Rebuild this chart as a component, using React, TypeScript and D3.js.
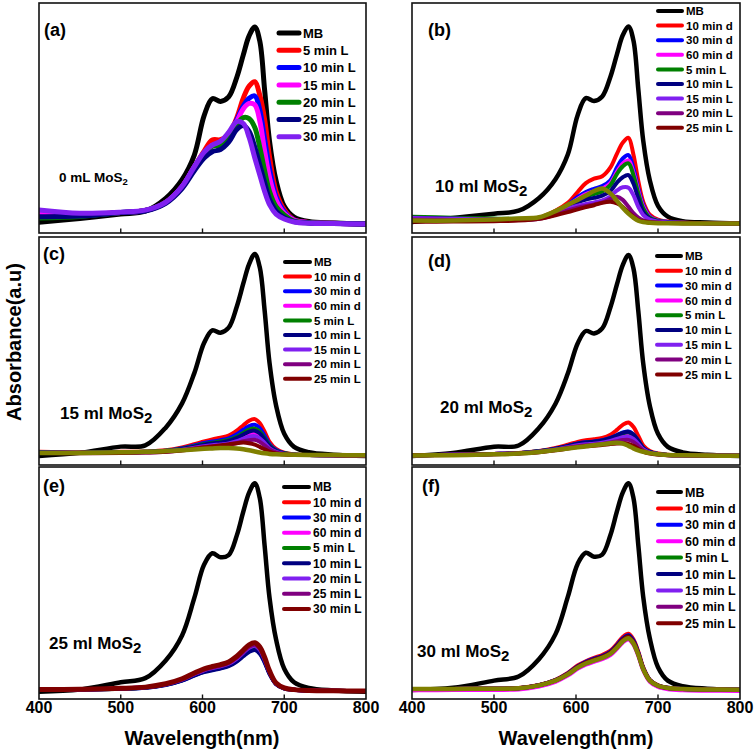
import React from 'react';
import * as d3 from 'd3';

// ---------------- DATA ----------------
const wavelengths = [400, 450, 500, 530, 555, 575, 590, 602, 612, 622, 632, 642, 650, 657, 664, 670, 676, 682, 690, 700, 712, 730, 760, 800];
const xTicks = [400, 500, 600, 700, 800];

// MB reference spectra (relative absorbance, peak = 1)
const mbTopRow = [0.008, 0.028, 0.05, 0.065, 0.13, 0.225, 0.35, 0.55, 0.636, 0.622, 0.645, 0.745, 0.86, 0.955, 1.0, 0.93, 0.68, 0.42, 0.22, 0.09, 0.035, 0.012, 0.005, 0.0];
const mbMidRow = [0.0, 0.015, 0.046, 0.052, 0.14, 0.26, 0.41, 0.56, 0.622, 0.61, 0.635, 0.74, 0.855, 0.95, 1.0, 0.935, 0.72, 0.46, 0.25, 0.11, 0.045, 0.018, 0.006, 0.0];
const mbLowRow = [0.0, 0.01, 0.045, 0.065, 0.15, 0.27, 0.45, 0.61, 0.664, 0.645, 0.655, 0.75, 0.865, 0.955, 1.0, 0.93, 0.70, 0.45, 0.25, 0.11, 0.045, 0.018, 0.006, 0.0];

// (a) 0 mL MoS2
const aLabels = ['MB', '5 min L', '10 min L', '15 min L', '20 min L', '25 min L', '30 min L'];
const a5L = [0.045, 0.045, 0.058, 0.068, 0.11, 0.19, 0.29, 0.37, 0.426, 0.428, 0.455, 0.54, 0.64, 0.70, 0.722, 0.655, 0.53, 0.34, 0.165, 0.072, 0.022, 0.008, 0.003, 0.0];
const a10L = [0.037, 0.04, 0.058, 0.068, 0.11, 0.19, 0.29, 0.36, 0.40, 0.405, 0.44, 0.53, 0.60, 0.638, 0.65, 0.58, 0.43, 0.28, 0.14, 0.063, 0.02, 0.007, 0.003, 0.0];
const a15L = [0.054, 0.048, 0.058, 0.068, 0.11, 0.19, 0.29, 0.36, 0.40, 0.405, 0.44, 0.52, 0.585, 0.612, 0.605, 0.525, 0.37, 0.235, 0.122, 0.054, 0.018, 0.007, 0.003, 0.0];
const a20L = [0.03, 0.038, 0.058, 0.068, 0.108, 0.185, 0.285, 0.355, 0.395, 0.40, 0.435, 0.505, 0.54, 0.535, 0.49, 0.39, 0.27, 0.165, 0.088, 0.046, 0.015, 0.006, 0.003, 0.0];
const a25L = [0.037, 0.04, 0.058, 0.066, 0.105, 0.18, 0.27, 0.335, 0.367, 0.378, 0.415, 0.48, 0.50, 0.47, 0.39, 0.30, 0.21, 0.125, 0.065, 0.032, 0.012, 0.005, 0.002, 0.0];
const a30L = [0.071, 0.054, 0.06, 0.07, 0.11, 0.19, 0.29, 0.365, 0.40, 0.42, 0.465, 0.52, 0.51, 0.44, 0.335, 0.25, 0.165, 0.098, 0.05, 0.025, 0.01, 0.004, 0.002, 0.0];

// shared legend for (b), (c), (d), (f)
const bcdfLabels = ['MB', '10 min d', '30 min d', '60 min d', '5 min L', '10 min L', '15 min L', '20 min L', '25 min L'];
const eLabels = ['MB', '10 min d', '30 min d', '60 min d', '5 min L', '10 min L', '20 min L', '25 min L', '30 min L'];

// (b) 10 ml MoS2
const bRed = [0.03, 0.025, 0.022, 0.022, 0.03, 0.065, 0.105, 0.16, 0.205, 0.228, 0.24, 0.285, 0.355, 0.41, 0.435, 0.35, 0.215, 0.11, 0.045, 0.02, 0.01, 0.005, 0.002, 0.0];
const bBlue = [0.03, 0.025, 0.022, 0.022, 0.029, 0.06, 0.095, 0.135, 0.16, 0.176, 0.19, 0.22, 0.285, 0.33, 0.347, 0.28, 0.178, 0.094, 0.036, 0.016, 0.008, 0.004, 0.002, 0.0];
const bPink = [0.028, 0.024, 0.021, 0.021, 0.028, 0.058, 0.09, 0.125, 0.15, 0.163, 0.176, 0.205, 0.262, 0.305, 0.32, 0.26, 0.165, 0.086, 0.033, 0.015, 0.008, 0.004, 0.002, 0.0];
const bGreen = [0.035, 0.03, 0.025, 0.024, 0.028, 0.056, 0.087, 0.118, 0.138, 0.15, 0.163, 0.195, 0.252, 0.29, 0.305, 0.246, 0.153, 0.077, 0.03, 0.014, 0.007, 0.004, 0.002, 0.0];
const bNavy = [0.03, 0.025, 0.022, 0.022, 0.027, 0.054, 0.082, 0.108, 0.122, 0.13, 0.142, 0.165, 0.208, 0.235, 0.246, 0.203, 0.127, 0.06, 0.025, 0.012, 0.006, 0.003, 0.002, 0.0];
const bViolet = [0.028, 0.024, 0.021, 0.021, 0.026, 0.05, 0.074, 0.09, 0.099, 0.107, 0.117, 0.138, 0.168, 0.184, 0.182, 0.144, 0.085, 0.043, 0.02, 0.01, 0.005, 0.003, 0.002, 0.0];
const bPurple = [0.02, 0.018, 0.017, 0.018, 0.024, 0.046, 0.066, 0.08, 0.089, 0.097, 0.107, 0.125, 0.136, 0.12, 0.085, 0.053, 0.03, 0.016, 0.008, 0.005, 0.003, 0.002, 0.001, 0.0];
const bMaroon = [0.009, 0.01, 0.012, 0.015, 0.024, 0.042, 0.058, 0.072, 0.083, 0.093, 0.105, 0.11, 0.102, 0.085, 0.056, 0.035, 0.018, 0.01, 0.006, 0.004, 0.003, 0.002, 0.001, 0.0];
const bOlive = [0.015, 0.015, 0.02, 0.026, 0.032, 0.063, 0.095, 0.12, 0.142, 0.165, 0.178, 0.153, 0.115, 0.08, 0.05, 0.03, 0.014, 0.007, 0.004, 0.002, 0.001, 0.0, 0.0, 0.0];

// (c) 15 ml MoS2
const cRed = [0.02, 0.018, 0.02, 0.022, 0.028, 0.042, 0.058, 0.072, 0.082, 0.09, 0.1, 0.125, 0.152, 0.174, 0.182, 0.163, 0.12, 0.07, 0.035, 0.016, 0.008, 0.004, 0.003, 0.002];
const cBlue = [0.018, 0.016, 0.018, 0.02, 0.026, 0.038, 0.052, 0.064, 0.071, 0.078, 0.087, 0.107, 0.13, 0.148, 0.154, 0.138, 0.1, 0.058, 0.029, 0.014, 0.007, 0.004, 0.003, 0.002];
const cPink = [0.016, 0.015, 0.017, 0.019, 0.024, 0.034, 0.045, 0.054, 0.059, 0.064, 0.07, 0.083, 0.098, 0.11, 0.115, 0.103, 0.075, 0.045, 0.023, 0.012, 0.006, 0.004, 0.003, 0.002];
const cGreen = [0.017, 0.016, 0.018, 0.02, 0.025, 0.036, 0.048, 0.059, 0.065, 0.071, 0.079, 0.095, 0.114, 0.13, 0.135, 0.121, 0.088, 0.052, 0.026, 0.013, 0.007, 0.004, 0.003, 0.002];
const cNavy = [0.016, 0.015, 0.017, 0.019, 0.024, 0.035, 0.046, 0.056, 0.062, 0.067, 0.074, 0.089, 0.106, 0.12, 0.125, 0.112, 0.082, 0.048, 0.024, 0.012, 0.006, 0.004, 0.003, 0.002];
const cViolet = [0.015, 0.014, 0.016, 0.018, 0.022, 0.031, 0.04, 0.048, 0.053, 0.057, 0.062, 0.073, 0.085, 0.095, 0.098, 0.087, 0.064, 0.038, 0.02, 0.01, 0.006, 0.004, 0.003, 0.002];
const cPurple = [0.015, 0.014, 0.016, 0.018, 0.021, 0.029, 0.037, 0.044, 0.048, 0.052, 0.056, 0.064, 0.073, 0.078, 0.08, 0.07, 0.052, 0.032, 0.017, 0.009, 0.005, 0.004, 0.003, 0.002];
const cMaroon = [0.014, 0.013, 0.015, 0.017, 0.02, 0.027, 0.035, 0.042, 0.047, 0.052, 0.057, 0.063, 0.066, 0.063, 0.056, 0.045, 0.033, 0.021, 0.012, 0.007, 0.005, 0.004, 0.003, 0.002];
const cOlive = [0.014, 0.015, 0.018, 0.02, 0.024, 0.028, 0.032, 0.035, 0.037, 0.039, 0.039, 0.037, 0.033, 0.028, 0.022, 0.017, 0.013, 0.01, 0.008, 0.007, 0.006, 0.005, 0.004, 0.003];

// (d) 20 ml MoS2
const dRed = [0.004, 0.006, 0.01, 0.015, 0.025, 0.04, 0.056, 0.07, 0.078, 0.083, 0.09, 0.106, 0.13, 0.155, 0.167, 0.145, 0.1, 0.052, 0.025, 0.012, 0.006, 0.003, 0.002, 0.001];
const dBlue = [0.004, 0.006, 0.01, 0.014, 0.023, 0.036, 0.05, 0.062, 0.068, 0.072, 0.078, 0.09, 0.104, 0.117, 0.122, 0.108, 0.076, 0.04, 0.02, 0.01, 0.005, 0.003, 0.002, 0.001];
const dPink = [0.004, 0.006, 0.01, 0.014, 0.022, 0.034, 0.047, 0.058, 0.063, 0.067, 0.072, 0.083, 0.095, 0.106, 0.11, 0.098, 0.069, 0.037, 0.018, 0.009, 0.005, 0.003, 0.002, 0.001];
const dGreen = [0.004, 0.006, 0.01, 0.014, 0.023, 0.035, 0.049, 0.06, 0.066, 0.07, 0.076, 0.088, 0.101, 0.113, 0.118, 0.105, 0.074, 0.039, 0.019, 0.01, 0.005, 0.003, 0.002, 0.001];
const dNavy = [0.004, 0.006, 0.01, 0.014, 0.023, 0.036, 0.05, 0.061, 0.067, 0.071, 0.077, 0.089, 0.103, 0.115, 0.12, 0.106, 0.075, 0.04, 0.02, 0.01, 0.005, 0.003, 0.002, 0.001];
const dViolet = [0.004, 0.006, 0.01, 0.013, 0.021, 0.032, 0.044, 0.053, 0.058, 0.061, 0.066, 0.075, 0.085, 0.093, 0.096, 0.085, 0.06, 0.033, 0.017, 0.009, 0.005, 0.003, 0.002, 0.001];
const dPurple = [0.004, 0.006, 0.009, 0.013, 0.02, 0.03, 0.041, 0.049, 0.053, 0.056, 0.06, 0.067, 0.074, 0.079, 0.08, 0.07, 0.05, 0.028, 0.015, 0.008, 0.004, 0.003, 0.002, 0.001];
const dMaroon = [0.003, 0.005, 0.009, 0.012, 0.019, 0.028, 0.037, 0.044, 0.048, 0.051, 0.054, 0.059, 0.062, 0.063, 0.06, 0.05, 0.036, 0.022, 0.012, 0.007, 0.004, 0.003, 0.002, 0.001];
const dOlive = [0.002, 0.004, 0.008, 0.012, 0.02, 0.03, 0.037, 0.043, 0.048, 0.053, 0.058, 0.063, 0.066, 0.062, 0.05, 0.038, 0.028, 0.021, 0.014, 0.009, 0.005, 0.003, 0.002, 0.001];

// (e) 25 ml MoS2
const eRed = [0.009, 0.011, 0.015, 0.02, 0.035, 0.057, 0.082, 0.1, 0.111, 0.119, 0.131, 0.155, 0.183, 0.206, 0.215, 0.197, 0.151, 0.092, 0.038, 0.017, 0.009, 0.006, 0.004, 0.003];
const eBlue = [0.009, 0.01, 0.014, 0.019, 0.033, 0.054, 0.079, 0.096, 0.106, 0.113, 0.125, 0.148, 0.174, 0.196, 0.205, 0.188, 0.144, 0.087, 0.037, 0.016, 0.009, 0.005, 0.003, 0.003];
const ePink = [0.009, 0.011, 0.015, 0.021, 0.035, 0.057, 0.083, 0.101, 0.111, 0.12, 0.132, 0.156, 0.183, 0.206, 0.214, 0.196, 0.15, 0.091, 0.038, 0.017, 0.009, 0.006, 0.004, 0.003];
const eGreen = [0.009, 0.011, 0.014, 0.02, 0.034, 0.055, 0.08, 0.098, 0.108, 0.116, 0.128, 0.152, 0.179, 0.201, 0.21, 0.192, 0.147, 0.089, 0.038, 0.016, 0.009, 0.005, 0.004, 0.003];
const eNavy = [0.009, 0.01, 0.014, 0.019, 0.032, 0.053, 0.077, 0.094, 0.103, 0.111, 0.122, 0.145, 0.17, 0.191, 0.2, 0.183, 0.14, 0.085, 0.036, 0.015, 0.009, 0.005, 0.003, 0.003];
const eViolet = [0.009, 0.011, 0.015, 0.021, 0.036, 0.058, 0.084, 0.103, 0.113, 0.122, 0.134, 0.159, 0.187, 0.211, 0.22, 0.201, 0.154, 0.094, 0.039, 0.017, 0.009, 0.006, 0.004, 0.003];
const ePurple = [0.01, 0.011, 0.015, 0.021, 0.036, 0.059, 0.086, 0.105, 0.116, 0.124, 0.137, 0.163, 0.191, 0.215, 0.225, 0.206, 0.158, 0.096, 0.04, 0.017, 0.01, 0.006, 0.004, 0.003];
const eMaroon = [0.01, 0.012, 0.016, 0.022, 0.038, 0.062, 0.09, 0.11, 0.121, 0.13, 0.143, 0.17, 0.2, 0.225, 0.235, 0.215, 0.165, 0.1, 0.042, 0.018, 0.01, 0.006, 0.004, 0.003];

// (f) 30 ml MoS2
const fRed = [0.004, 0.005, 0.007, 0.009, 0.024, 0.049, 0.082, 0.118, 0.139, 0.155, 0.169, 0.19, 0.223, 0.256, 0.272, 0.245, 0.185, 0.109, 0.049, 0.022, 0.01, 0.004, 0.002, 0.001];
const fBlue = [0.004, 0.005, 0.006, 0.008, 0.023, 0.048, 0.08, 0.114, 0.136, 0.151, 0.164, 0.186, 0.217, 0.249, 0.265, 0.239, 0.18, 0.106, 0.048, 0.021, 0.01, 0.004, 0.002, 0.001];
const fPink = [-0.002, -0.001, 0.0, 0.002, 0.016, 0.039, 0.069, 0.102, 0.122, 0.136, 0.149, 0.169, 0.199, 0.229, 0.244, 0.219, 0.164, 0.094, 0.039, 0.014, 0.003, -0.002, -0.004, -0.005];
const fGreen = [0.004, 0.005, 0.006, 0.008, 0.022, 0.046, 0.077, 0.11, 0.131, 0.145, 0.158, 0.179, 0.209, 0.24, 0.255, 0.23, 0.173, 0.102, 0.046, 0.02, 0.009, 0.004, 0.002, 0.001];
const fNavy = [0.004, 0.005, 0.006, 0.008, 0.023, 0.047, 0.079, 0.113, 0.134, 0.149, 0.162, 0.183, 0.215, 0.246, 0.262, 0.236, 0.178, 0.105, 0.047, 0.021, 0.009, 0.004, 0.002, 0.001];
const fViolet = [0.004, 0.005, 0.006, 0.008, 0.022, 0.045, 0.075, 0.108, 0.128, 0.142, 0.155, 0.175, 0.205, 0.235, 0.25, 0.225, 0.17, 0.1, 0.045, 0.02, 0.009, 0.004, 0.002, 0.001];
const fPurple = [0.004, 0.005, 0.006, 0.008, 0.022, 0.046, 0.077, 0.11, 0.13, 0.145, 0.158, 0.179, 0.209, 0.239, 0.254, 0.229, 0.173, 0.102, 0.046, 0.02, 0.009, 0.004, 0.002, 0.001];
const fMaroon = [0.004, 0.005, 0.006, 0.008, 0.023, 0.046, 0.077, 0.111, 0.132, 0.147, 0.16, 0.181, 0.212, 0.243, 0.258, 0.232, 0.175, 0.103, 0.046, 0.021, 0.009, 0.004, 0.002, 0.001];
const fOlive = [0.004, 0.005, 0.006, 0.008, 0.022, 0.045, 0.075, 0.108, 0.128, 0.142, 0.155, 0.175, 0.205, 0.235, 0.25, 0.225, 0.17, 0.1, 0.045, 0.02, 0.009, 0.004, 0.002, 0.001];

// ---------------- STYLE ----------------
const C = {
  black: '#000000', red: '#FF0000', blue: '#0000FF', magenta: '#FF00FF', green: '#008000',
  navy: '#000080', violet: '#8020F0', purple: '#800080', maroon: '#800000', olive: '#808000',
};
const aColors = [C.black, C.red, C.blue, C.magenta, C.green, C.navy, C.violet];
const nineColors = [C.black, C.red, C.blue, C.magenta, C.green, C.navy, C.violet, C.purple, C.maroon];
const FONT = "'Liberation Sans', Arial, Helvetica, sans-serif";

type Panel = {
  tag: string;
  x0: number; x1: number; y0: number; y1: number;
  yDom: [number, number];
  series: number[][];
  labels: string[];
  colors: string[];
  extra?: number[];
  lw: number; mbW: number; lastW?: number;
  legend: { lx0: number; lx1: number; tx: number; ry: number; step: number; fs: number; lw: number };
  note: { main: string; x: number; y: number; fs: number; subFs: number; subDy: number };
  tagPos: { x: number; y: number };
  tickLabels: boolean;
};

const panels: Panel[] = [
  {
    tag: '(a)', x0: 39, x1: 366, y0: 3, y1: 233, yDom: [-0.046, 1.122],
    series: [mbTopRow, a5L, a10L, a15L, a20L, a25L, a30L], labels: aLabels, colors: aColors,
    lw: 5, mbW: 5,
    legend: { lx0: 277, lx1: 301, tx: 303, ry: 33, step: 17.3, fs: 13, lw: 5 },
    note: { main: '0 mL MoS', x: 59, y: 182, fs: 13.5, subFs: 9.5, subDy: 3 },
    tagPos: { x: 44, y: 36 }, tickLabels: false,
  },
  {
    tag: '(b)', x0: 412, x1: 740, y0: 3, y1: 233, yDom: [-0.048, 1.119],
    series: [mbTopRow, bRed, bBlue, bPink, bGreen, bNavy, bViolet, bPurple, bMaroon], labels: bcdfLabels, colors: nineColors,
    extra: bOlive, lw: 4, mbW: 4.5,
    legend: { lx0: 656, lx1: 684, tx: 686, ry: 11, step: 14.6, fs: 11.5, lw: 4 },
    note: { main: '10 ml MoS', x: 435, y: 192, fs: 17, subFs: 15, subDy: 4 },
    tagPos: { x: 428, y: 36 }, tickLabels: false,
  },
  {
    tag: '(c)', x0: 39, x1: 366, y0: 237, y1: 465, yDom: [-0.045, 1.084],
    series: [mbMidRow, cRed, cBlue, cPink, cGreen, cNavy, cViolet, cPurple, cMaroon], labels: bcdfLabels, colors: nineColors,
    extra: cOlive, lw: 4, mbW: 4.5,
    legend: { lx0: 283, lx1: 312, tx: 314, ry: 262, step: 14.6, fs: 11.5, lw: 4 },
    note: { main: '15 ml MoS', x: 60, y: 419, fs: 17, subFs: 15, subDy: 4 },
    tagPos: { x: 43, y: 260 }, tickLabels: false,
  },
  {
    tag: '(d)', x0: 412, x1: 740, y0: 237, y1: 465, yDom: [-0.045, 1.09],
    series: [mbMidRow, dRed, dBlue, dPink, dGreen, dNavy, dViolet, dPurple, dMaroon], labels: bcdfLabels, colors: nineColors,
    extra: dOlive, lw: 4, mbW: 4.5,
    legend: { lx0: 655, lx1: 683, tx: 685, ry: 256, step: 14.8, fs: 11.5, lw: 4 },
    note: { main: '20 ml MoS', x: 440, y: 413, fs: 17, subFs: 15, subDy: 4 },
    tagPos: { x: 428, y: 267 }, tickLabels: false,
  },
  {
    tag: '(e)', x0: 39, x1: 366, y0: 467, y1: 699, yDom: [-0.035, 1.078],
    series: [mbLowRow, eRed, eBlue, ePink, eGreen, eNavy, eViolet, ePurple, eMaroon], labels: eLabels, colors: nineColors,
    lw: 4, mbW: 4.5, lastW: 5,
    legend: { lx0: 282, lx1: 311, tx: 313, ry: 487, step: 15.25, fs: 12, lw: 4 },
    note: { main: '25 ml MoS', x: 49, y: 649, fs: 17, subFs: 15, subDy: 4 },
    tagPos: { x: 43, y: 492 }, tickLabels: true,
  },
  {
    tag: '(f)', x0: 412, x1: 740, y0: 467, y1: 699, yDom: [-0.044, 1.079],
    series: [mbLowRow, fRed, fBlue, fPink, fGreen, fNavy, fViolet, fPurple, fMaroon], labels: bcdfLabels, colors: nineColors,
    extra: fOlive, lw: 4, mbW: 4.5,
    legend: { lx0: 656, lx1: 683, tx: 685, ry: 492, step: 16.4, fs: 12.5, lw: 4 },
    note: { main: '30 ml MoS', x: 417, y: 657, fs: 17, subFs: 15, subDy: 4 },
    tagPos: { x: 422, y: 492 }, tickLabels: true,
  },
];

function PanelView({ p, idx }: { p: Panel; idx: number }) {
  const x = d3.scaleLinear().domain([400, 800]).range([p.x0, p.x1]);
  const y = d3.scaleLinear().domain(p.yDom).range([p.y1, p.y0]);
  const line = d3
    .line<number>()
    .x((_, i) => x(wavelengths[i]))
    .y((d) => y(d))
    .curve(d3.curveCatmullRom.alpha(0.5));
  const clipId = `clip-${idx}`;
  const n = p.series.length;
  return (
    <g>
      <defs>
        <clipPath id={clipId}>
          <rect x={p.x0} y={p.y0} width={p.x1 - p.x0} height={p.y1 - p.y0} />
        </clipPath>
      </defs>
      <g clipPath={`url(#${clipId})`} fill="none" strokeLinejoin="round" strokeLinecap="round">
        {p.series.map((s, i) => (
          <path
            key={i}
            d={line(s) || ''}
            stroke={p.colors[i]}
            strokeWidth={i === 0 ? p.mbW : i === n - 1 && p.lastW ? p.lastW : p.lw}
          />
        ))}
        {p.extra && <path d={line(p.extra) || ''} stroke={C.olive} strokeWidth={p.lw + 0.5} />}
      </g>
      {/* frame */}
      <rect x={p.x0} y={p.y0} width={p.x1 - p.x0} height={p.y1 - p.y0} fill="none" stroke="#111" strokeWidth={1.6} />
      {/* bottom ticks (inward) */}
      {xTicks.slice(1, -1).map((t) => (
        <line key={t} x1={x(t)} x2={x(t)} y1={p.y1} y2={p.y1 - 4.5} stroke="#111" strokeWidth={1.4} />
      ))}
      {p.tickLabels &&
        xTicks.map((t) => (
          <text key={t} x={x(t)} y={713} textAnchor="middle" fontSize={16} fontWeight="bold" fontFamily={FONT} fill="#000">
            {t}
          </text>
        ))}
      {/* legend */}
      {p.labels.map((lab, i) => {
        const ly = p.legend.ry + i * p.legend.step;
        return (
          <g key={lab + i}>
            <line
              x1={p.legend.lx0 + 2}
              x2={p.legend.lx1 - 2}
              y1={ly}
              y2={ly}
              stroke={p.colors[i]}
              strokeWidth={p.legend.lw}
              strokeLinecap="round"
            />
            <text x={p.legend.tx} y={ly} dy="0.36em" fontSize={p.legend.fs} fontWeight="bold" fontFamily={FONT} fill="#000">
              {lab}
            </text>
          </g>
        );
      })}
      {/* panel tag */}
      <text x={p.tagPos.x} y={p.tagPos.y} fontSize={18} fontWeight="bold" fontFamily={FONT} fill="#000">
        {p.tag}
      </text>
      {/* annotation */}
      <text x={p.note.x} y={p.note.y} fontSize={p.note.fs} fontWeight="bold" fontFamily={FONT} fill="#000">
        {p.note.main}
        <tspan fontSize={p.note.subFs} dy={p.note.subDy}>2</tspan>
      </text>
    </g>
  );
}

export default function App() {
  return (
    <svg
      width={756}
      height={756}
      viewBox="0 0 756 756"
      style={{ position: 'absolute', left: 0, top: 0, background: '#fff' }}
    >
      <rect x={0} y={0} width={756} height={756} fill="#fff" />
      {panels.map((p, i) => (
        <PanelView key={p.tag} p={p} idx={i} />
      ))}
      <text x={202} y={745} textAnchor="middle" fontSize={20} fontWeight="bold" fontFamily={FONT} fill="#000">
        Wavelength(nm)
      </text>
      <text x={576} y={745} textAnchor="middle" fontSize={20} fontWeight="bold" fontFamily={FONT} fill="#000">
        Wavelength(nm)
      </text>
      <text
        transform="translate(21,342) rotate(-90)"
        textAnchor="middle"
        fontSize={20}
        fontWeight="bold"
        fontFamily={FONT}
        fill="#000"
      >
        Absorbance(a.u)
      </text>
    </svg>
  );
}
